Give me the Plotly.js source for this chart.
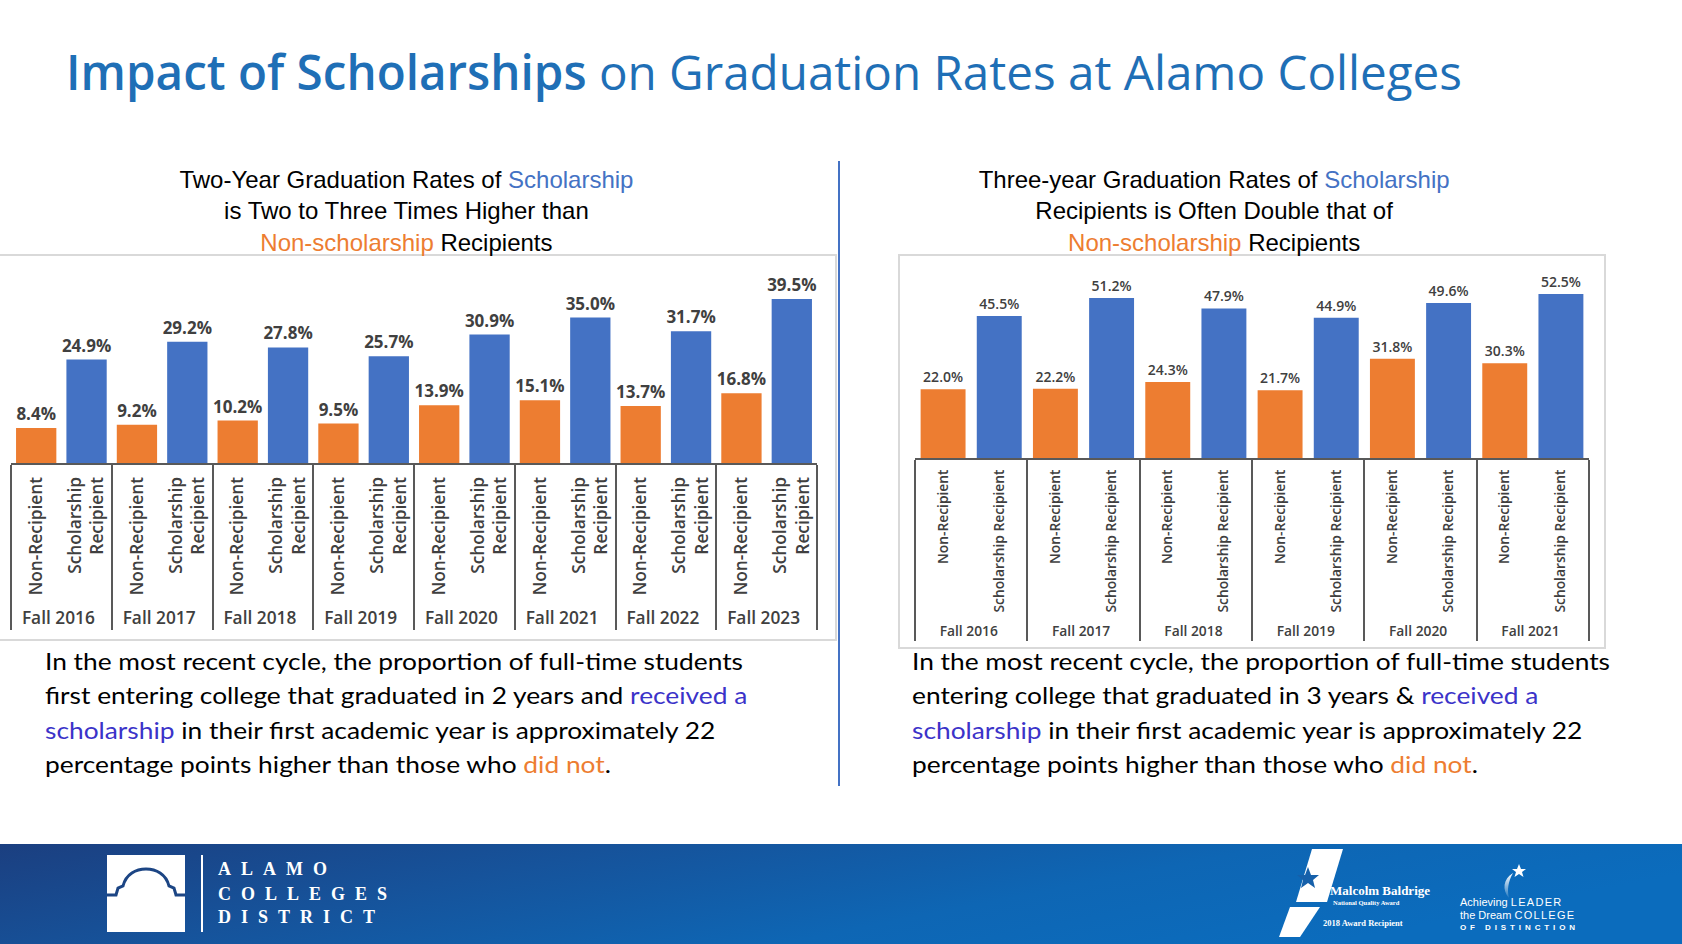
<!DOCTYPE html>
<html><head><meta charset="utf-8">
<script src="https://cdn.plot.ly/plotly-3.0.1.min.js"></script>
<style>
html,body{margin:0;padding:0;background:#fff;}
#page{position:relative;width:1682px;height:944px;overflow:hidden;background:#fff;}
.abs{position:absolute;}
#title{left:66px;top:42px;white-space:nowrap;font-family:'Open Sans';font-size:48px;line-height:60px;color:#1F6FB6;transform-origin:0 0;}
.para{white-space:nowrap;font-family:Lato;font-size:23px;line-height:34.3px;color:#000;transform-origin:0 0;}
.blue{color:#3B33C9}
.orange{color:#ED7D31}
.box{box-sizing:border-box;border:2px solid #D9D9D9;}
</style></head>
<body><div id="page">
<div id="title" class="abs"><span style="font-weight:600">Impact of Scholarships</span> on Graduation Rates at Alamo Colleges</div>
<div class="abs box" style="left:-2px;top:254px;width:839px;height:387px;"></div>
<div class="abs box" style="left:898px;top:254px;width:708px;height:395px;"></div>
<div class="abs" style="left:838px;top:161px;width:2px;height:625px;background:#4472C4"></div>
<div id="chart2yr" class="abs" style="left:0;top:150px;width:838px;height:490px"></div>
<div id="chart3yr" class="abs" style="left:899px;top:150px;width:705px;height:497px"></div>
<div id="p1" class="abs para" style="left:45px;top:644px"><span id="p1l1">In the most recent cycle, the proportion of full-time students</span><br>first entering college that graduated in 2 years and <span class="blue">received a</span><br><span class="blue">scholarship</span> in their first academic year is approximately 22<br>percentage points higher than those who <span class="orange">did not</span>.</div>
<div id="p2" class="abs para" style="left:912px;top:644px"><span id="p2l1">In the most recent cycle, the proportion of full-time students</span><br>entering college that graduated in 3 years &amp; <span class="blue">received a</span><br><span class="blue">scholarship</span> in their first academic year is approximately 22<br>percentage points higher than those who <span class="orange">did not</span>.</div>
<svg class="abs" style="left:0;top:844px" width="1682" height="100" viewBox="0 0 1682 100">
  <defs>
    <linearGradient id="fg" x1="0" y1="0" x2="1" y2="0.3">
      <stop offset="0" stop-color="#1B3F80"/>
      <stop offset="0.35" stop-color="#16539B"/>
      <stop offset="0.7" stop-color="#0E66B4"/>
      <stop offset="1" stop-color="#0B6CBD"/>
    </linearGradient>
    <linearGradient id="cres" x1="0" y1="0" x2="0" y2="1">
      <stop offset="0" stop-color="#ffffff"/>
      <stop offset="1" stop-color="#ffffff" stop-opacity="0.1"/>
    </linearGradient>
  </defs>
  <rect x="0" y="0" width="1682" height="100" fill="url(#fg)"/>
  <rect x="107" y="11" width="78" height="77" fill="#fff"/>
  <path d="M107,51 L116,51 L118,44 L123,42 C126,30 136,25 146,25 C156,25 166,30 169,42 L174,44 L176,51 L185,51" fill="none" stroke="#1C4584" stroke-width="3"/>
  <rect x="201" y="11" width="2" height="77" fill="#fff"/>
  <g font-family="Liberation Serif" font-size="18" font-weight="bold" fill="#fff" letter-spacing="10">
    <text x="218" y="31">ALAMO</text>
    <text x="218" y="56">COLLEGES</text>
    <text x="218" y="79">DISTRICT</text>
  </g>
  <path d="M1312,5 L1343,5 L1327,58 L1296,58 Z" fill="#fff"/>
  <path d="M1290,63 L1320,63 L1300,93 L1279,93 Z" fill="#fff"/>
  <path d="M1308,23 l3,8 l8,0 l-6,5 l2,8 l-7,-5 l-7,5 l2,-8 l-6,-5 l8,0 Z" fill="#1660AA"/>
  <g font-family="Liberation Serif" fill="#fff" font-weight="bold">
    <text x="1330" y="51" font-size="13">Malcolm Baldrige</text>
    <text x="1333" y="61" font-size="6.5">National Quality Award</text>
    <text x="1323" y="82" font-size="8.5">2018 Award Recipient</text>
  </g>
  <path d="M1519,20 l2,5 l5,0 l-4,3 l1.5,5 l-4.5,-3 l-4.5,3 l1.5,-5 l-4,-3 l5,0 Z" fill="#fff"/>
  <path d="M1513,29 C1503,35 1502,46 1509,54 C1507,46 1508,38 1513,29 Z" fill="url(#cres)"/>
  <g font-family="Liberation Sans" fill="#fff">
    <text x="1460" y="62" font-size="11">Achieving <tspan letter-spacing="1.3">LEADER</tspan></text>
    <text x="1460" y="75" font-size="11">the Dream <tspan letter-spacing="1.3">COLLEGE</tspan></text>
    <text x="1460" y="86" font-size="8" font-weight="bold" letter-spacing="3.9">OF DISTINCTION</text>
  </g>
</svg>
</div>
<script>
// ---- data ----
const years2yr = ['Fall 2016','Fall 2017','Fall 2018','Fall 2019','Fall 2020','Fall 2021','Fall 2022','Fall 2023'];
const nonRecipient2yr = [8.4, 9.2, 10.2, 9.5, 13.9, 15.1, 13.7, 16.8];
const scholarship2yr = [24.9, 29.2, 27.8, 25.7, 30.9, 35.0, 31.7, 39.5];
const years3yr = ['Fall 2016','Fall 2017','Fall 2018','Fall 2019','Fall 2020','Fall 2021'];
const nonRecipient3yr = [22.0, 22.2, 24.3, 21.7, 31.8, 30.3];
const scholarship3yr = [45.5, 51.2, 47.9, 44.9, 49.6, 52.5];
const labelNon = 'Non-Recipient';
const labelSch2yr = 'Scholarship<br>Recipient';
const labelSch3yr = 'Scholarship Recipient';
const title2yr = 'Two-Year Graduation Rates of <span style="color:#4472C4">Scholarship</span><br>is Two to Three Times Higher than<br><span style="color:#ED7D31">Non-scholarship</span> Recipients';
const title3yr = 'Three-year Graduation Rates of <span style="color:#4472C4">Scholarship</span><br>Recipients is Often Double that of<br><span style="color:#ED7D31">Non-scholarship</span> Recipients';

const ORANGE = '#ED7D31', BLUE = '#4472C4';

function makeChart(id, years, non, sch, schLabel, o) {
  const common = {type:'bar', textposition:'outside', cliponaxis:false, constraintext:'none', hoverinfo:'none',
     textfont:{family:'Open Sans', size:o.valSize, weight:o.valWeight, color:'#404040'}};
  const traces = [
    Object.assign({}, common, {x:[years, years.map(()=>labelNon)], y:non, marker:{color:ORANGE},
     text:non.map(v=>v.toFixed(1)+'%')}),
    Object.assign({}, common, {x:[years, years.map(()=>schLabel)], y:sch, marker:{color:BLUE},
     text:sch.map(v=>v.toFixed(1)+'%')})
  ];
  const layout = {
    width:o.w, height:o.h, margin:o.margin,
    paper_bgcolor:'rgba(0,0,0,0)', plot_bgcolor:'rgba(0,0,0,0)',
    showlegend:false, barmode:'overlay', bargap:0.2,
    title:{text:o.title, font:{family:'Liberation Sans', size:24, color:'#000'},
           xref:'container', x:o.titleX, xanchor:'center', yref:'container', y:o.titleY, yanchor:'top'},
    xaxis:{type:'multicategory', range:[-0.5, years.length*2-0.5], showline:true, linecolor:'#595959', linewidth:2,
           tickangle:-90, ticks:'', showgrid:false, zeroline:false, ticklabelstandoff:o.standoff,
           tickfont:{family:'Open Sans', size:o.tickSize, weight:600, color:'#404040'},
           showdividers:true, dividercolor:'#595959', dividerwidth:2},
    yaxis:{range:[0, o.ymax], visible:false, showgrid:false, zeroline:false}
  };
  Plotly.newPlot(id, traces, layout, {displayModeBar:false, staticPlot:true});
}

makeChart('chart2yr', years2yr, nonRecipient2yr, scholarship2yr, labelSch2yr,
  {w:838, h:490, margin:{l:11, r:21, t:105, b:177}, ymax:50.06, title:title2yr, titleX:0.485, titleY:0.922,
   valSize:17, valWeight:700, tickSize:17.3, standoff:5});
makeChart('chart3yr', years3yr, nonRecipient3yr, scholarship3yr, labelSch3yr,
  {w:705, h:497, margin:{l:16, r:15, t:105, b:189}, ymax:65.0, title:title3yr, titleX:0.447, titleY:0.923,
   valSize:14, valWeight:600, tickSize:13.8, standoff:4});

function fit(el, measureEl, target) {
  el.style.transform = 'none';
  const w = measureEl.getBoundingClientRect().width;
  if (w > 0) el.style.transform = 'scaleX(' + (target / w) + ')';
}
function fitAll() {
  const t = document.getElementById('title');
  fit(t, t, 1396);
  fit(document.getElementById('p1'), document.getElementById('p1l1'), 698);
  fit(document.getElementById('p2'), document.getElementById('p2l1'), 698);
}
fitAll();
if (document.fonts && document.fonts.ready) document.fonts.ready.then(fitAll);
</script>
</body></html>
